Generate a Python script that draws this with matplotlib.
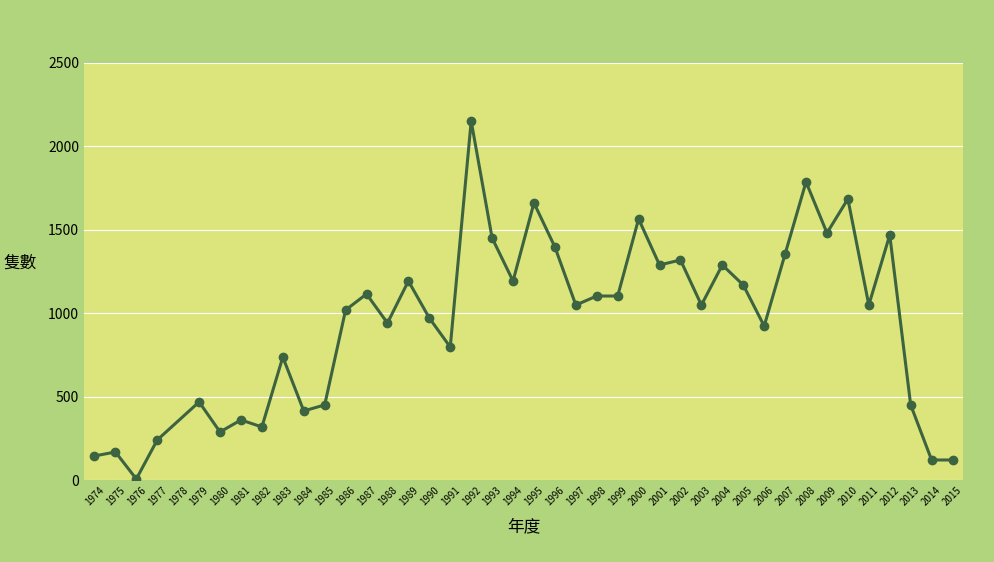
import matplotlib.pyplot as plt
import numpy as np

plt.rcParams['font.family'] = ['Noto Sans CJK TC', 'DejaVu Sans']

years = [str(y) for y in range(1974, 2016)]
counts = [144, 168, 6, 240, None, 468, 288, 360, 318, 737, 414, 450, 1019, 1115,
          941, 1193, 971, 797, 2152, 1451, 1193, 1661, 1397, 1049, 1103, 1103,
          1565, 1289, 1319, 1049, 1289, 1169, 923, 1355, 1787, 1481, 1685, 1049,
          1469, 450, 120, 120]

x = np.arange(len(years))
vals = np.array([np.nan if v is None else v for v in counts], dtype=float)
mask = ~np.isnan(vals)

fig = plt.figure(figsize=(9.94, 5.62), dpi=100, facecolor='#b0d57c')
ax = fig.add_axes([84 / 994, 82 / 562, 879 / 994, 417 / 562])
ax.set_facecolor('#dbe57c')

ax.plot(x[mask], vals[mask], color='#3d6440', lw=2.2, marker='o', ms=6)

ax.set_xlim(-0.5, len(years) - 0.5)
ax.set_ylim(0, 2500)
ax.set_yticks(range(0, 2501, 500))
ax.grid(axis='y', color='white', lw=0.8)
ax.set_axisbelow(True)
ax.set_xticks(x)
ax.set_xticklabels(years, rotation=45, fontsize=7)
ax.tick_params(axis='y', labelsize=10, length=0)
ax.tick_params(axis='x', length=0)
for s in ax.spines.values():
    s.set_visible(False)

ax.set_xlabel('年度', fontsize=12, labelpad=8)
ax.set_ylabel('隻數', fontsize=12, rotation=0, labelpad=20)

fig.savefig('out.png', dpi=100, facecolor=fig.get_facecolor())
